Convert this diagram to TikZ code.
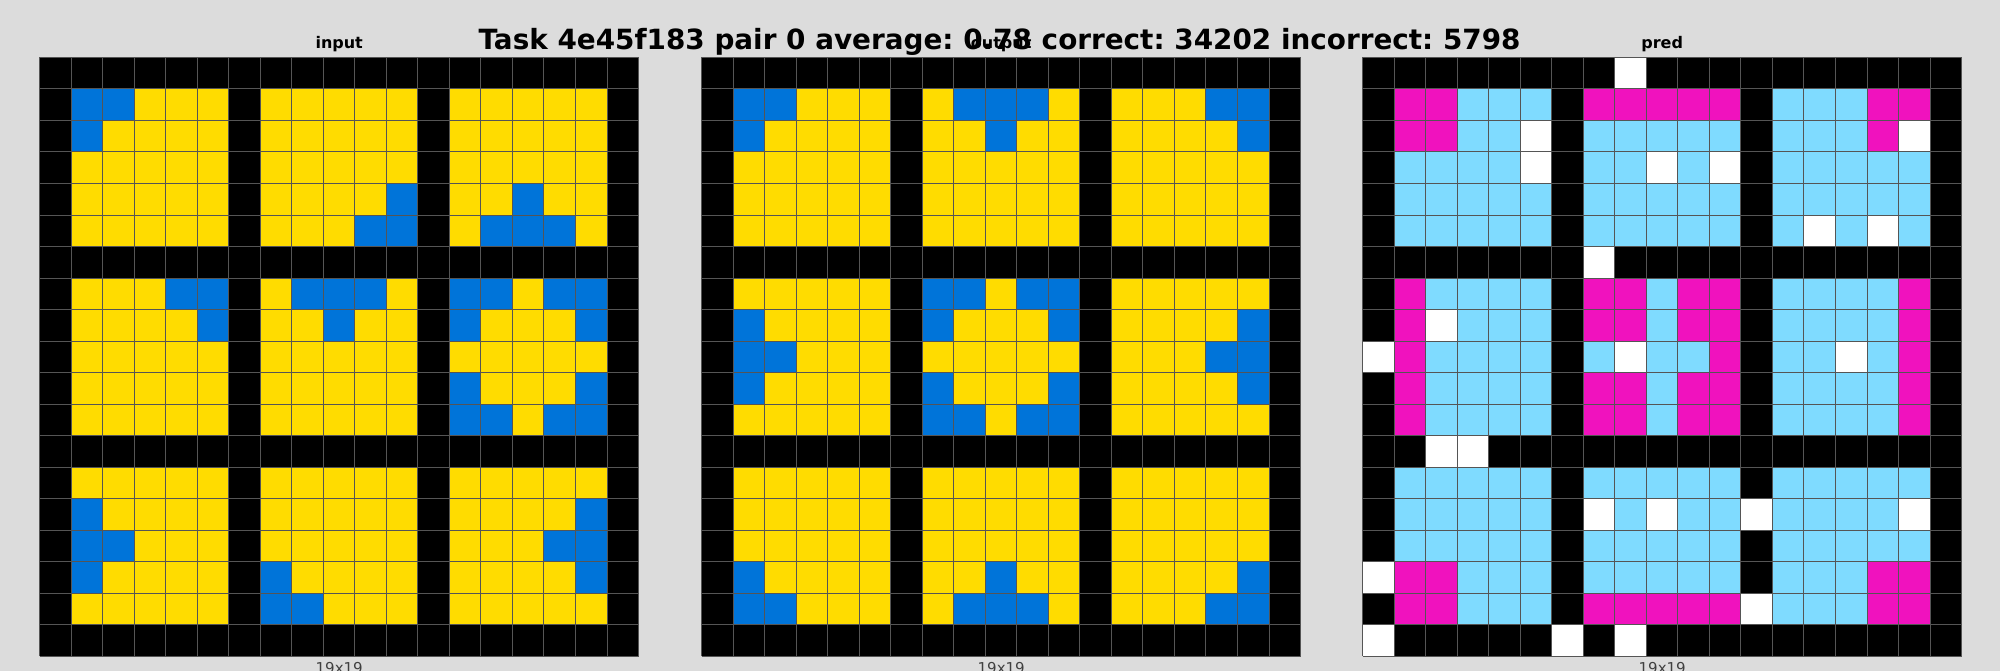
\documentclass[tikz,border=0pt]{standalone}
\usepackage{fontspec}
\setmainfont{DejaVu Sans}
\frenchspacing
\definecolor{cK}{HTML}{000000}
\definecolor{cB}{HTML}{0074D9}
\definecolor{cY}{HTML}{FFDC00}
\definecolor{cM}{HTML}{F012BE}
\definecolor{cC}{HTML}{7FDBFF}
\definecolor{cW}{HTML}{FFFFFF}
\definecolor{bgc}{HTML}{DCDCDC}
\definecolor{glc}{HTML}{555555}
\def\cellsz{31.53}
\newcommand\drawarcgrid[3]{%
  \foreach \rowlist [count=\ri from 0] in #3 {%
    \foreach \cc [count=\ci from 0] in \rowlist {%
      \fill[fill=c\cc] ({#1+\ci*\cellsz},{#2+\ri*\cellsz}) rectangle ++(\cellsz,\cellsz);
    }%
  }%
  \foreach \li in {0,...,19} {%
    \draw[gridline] ({#1+\li*\cellsz},#2) -- ++(0,{19*\cellsz});
    \draw[gridline] (#1,{#2+\li*\cellsz}) -- ++({19*\cellsz},0);
  }%
}
\def\gridIn{%
{K,K,K,K,K,K,K,K,K,K,K,K,K,K,K,K,K,K,K},
{K,B,B,Y,Y,Y,K,Y,Y,Y,Y,Y,K,Y,Y,Y,Y,Y,K},
{K,B,Y,Y,Y,Y,K,Y,Y,Y,Y,Y,K,Y,Y,Y,Y,Y,K},
{K,Y,Y,Y,Y,Y,K,Y,Y,Y,Y,Y,K,Y,Y,Y,Y,Y,K},
{K,Y,Y,Y,Y,Y,K,Y,Y,Y,Y,B,K,Y,Y,B,Y,Y,K},
{K,Y,Y,Y,Y,Y,K,Y,Y,Y,B,B,K,Y,B,B,B,Y,K},
{K,K,K,K,K,K,K,K,K,K,K,K,K,K,K,K,K,K,K},
{K,Y,Y,Y,B,B,K,Y,B,B,B,Y,K,B,B,Y,B,B,K},
{K,Y,Y,Y,Y,B,K,Y,Y,B,Y,Y,K,B,Y,Y,Y,B,K},
{K,Y,Y,Y,Y,Y,K,Y,Y,Y,Y,Y,K,Y,Y,Y,Y,Y,K},
{K,Y,Y,Y,Y,Y,K,Y,Y,Y,Y,Y,K,B,Y,Y,Y,B,K},
{K,Y,Y,Y,Y,Y,K,Y,Y,Y,Y,Y,K,B,B,Y,B,B,K},
{K,K,K,K,K,K,K,K,K,K,K,K,K,K,K,K,K,K,K},
{K,Y,Y,Y,Y,Y,K,Y,Y,Y,Y,Y,K,Y,Y,Y,Y,Y,K},
{K,B,Y,Y,Y,Y,K,Y,Y,Y,Y,Y,K,Y,Y,Y,Y,B,K},
{K,B,B,Y,Y,Y,K,Y,Y,Y,Y,Y,K,Y,Y,Y,B,B,K},
{K,B,Y,Y,Y,Y,K,B,Y,Y,Y,Y,K,Y,Y,Y,Y,B,K},
{K,Y,Y,Y,Y,Y,K,B,B,Y,Y,Y,K,Y,Y,Y,Y,Y,K},
{K,K,K,K,K,K,K,K,K,K,K,K,K,K,K,K,K,K,K}}
\def\gridOut{%
{K,K,K,K,K,K,K,K,K,K,K,K,K,K,K,K,K,K,K},
{K,B,B,Y,Y,Y,K,Y,B,B,B,Y,K,Y,Y,Y,B,B,K},
{K,B,Y,Y,Y,Y,K,Y,Y,B,Y,Y,K,Y,Y,Y,Y,B,K},
{K,Y,Y,Y,Y,Y,K,Y,Y,Y,Y,Y,K,Y,Y,Y,Y,Y,K},
{K,Y,Y,Y,Y,Y,K,Y,Y,Y,Y,Y,K,Y,Y,Y,Y,Y,K},
{K,Y,Y,Y,Y,Y,K,Y,Y,Y,Y,Y,K,Y,Y,Y,Y,Y,K},
{K,K,K,K,K,K,K,K,K,K,K,K,K,K,K,K,K,K,K},
{K,Y,Y,Y,Y,Y,K,B,B,Y,B,B,K,Y,Y,Y,Y,Y,K},
{K,B,Y,Y,Y,Y,K,B,Y,Y,Y,B,K,Y,Y,Y,Y,B,K},
{K,B,B,Y,Y,Y,K,Y,Y,Y,Y,Y,K,Y,Y,Y,B,B,K},
{K,B,Y,Y,Y,Y,K,B,Y,Y,Y,B,K,Y,Y,Y,Y,B,K},
{K,Y,Y,Y,Y,Y,K,B,B,Y,B,B,K,Y,Y,Y,Y,Y,K},
{K,K,K,K,K,K,K,K,K,K,K,K,K,K,K,K,K,K,K},
{K,Y,Y,Y,Y,Y,K,Y,Y,Y,Y,Y,K,Y,Y,Y,Y,Y,K},
{K,Y,Y,Y,Y,Y,K,Y,Y,Y,Y,Y,K,Y,Y,Y,Y,Y,K},
{K,Y,Y,Y,Y,Y,K,Y,Y,Y,Y,Y,K,Y,Y,Y,Y,Y,K},
{K,B,Y,Y,Y,Y,K,Y,Y,B,Y,Y,K,Y,Y,Y,Y,B,K},
{K,B,B,Y,Y,Y,K,Y,B,B,B,Y,K,Y,Y,Y,B,B,K},
{K,K,K,K,K,K,K,K,K,K,K,K,K,K,K,K,K,K,K}}
\def\gridPred{%
{K,K,K,K,K,K,K,K,W,K,K,K,K,K,K,K,K,K,K},
{K,M,M,C,C,C,K,M,M,M,M,M,K,C,C,C,M,M,K},
{K,M,M,C,C,W,K,C,C,C,C,C,K,C,C,C,M,W,K},
{K,C,C,C,C,W,K,C,C,W,C,W,K,C,C,C,C,C,K},
{K,C,C,C,C,C,K,C,C,C,C,C,K,C,C,C,C,C,K},
{K,C,C,C,C,C,K,C,C,C,C,C,K,C,W,C,W,C,K},
{K,K,K,K,K,K,K,W,K,K,K,K,K,K,K,K,K,K,K},
{K,M,C,C,C,C,K,M,M,C,M,M,K,C,C,C,C,M,K},
{K,M,W,C,C,C,K,M,M,C,M,M,K,C,C,C,C,M,K},
{W,M,C,C,C,C,K,C,W,C,C,M,K,C,C,W,C,M,K},
{K,M,C,C,C,C,K,M,M,C,M,M,K,C,C,C,C,M,K},
{K,M,C,C,C,C,K,M,M,C,M,M,K,C,C,C,C,M,K},
{K,K,W,W,K,K,K,K,K,K,K,K,K,K,K,K,K,K,K},
{K,C,C,C,C,C,K,C,C,C,C,C,K,C,C,C,C,C,K},
{K,C,C,C,C,C,K,W,C,W,C,C,W,C,C,C,C,W,K},
{K,C,C,C,C,C,K,C,C,C,C,C,K,C,C,C,C,C,K},
{W,M,M,C,C,C,K,C,C,C,C,C,K,C,C,C,M,M,K},
{K,M,M,C,C,C,K,M,M,M,M,M,W,C,C,C,M,M,K},
{W,K,K,K,K,K,W,K,W,K,K,K,K,K,K,K,K,K,K}}
\begin{document}
\begin{tikzpicture}[x=1pt,y=-1pt,
  gridline/.style={draw=glc,line width=1pt},
  titlef/.style={font=\bfseries\fontsize{27.85}{33}\selectfont,inner sep=0pt,anchor=base},
  subt/.style={font=\bfseries\fontsize{16}{19}\selectfont,inner sep=0pt,anchor=base},
  dimt/.style={font=\fontsize{15}{18}\selectfont,text=black!75,inner sep=0pt,anchor=base}]
\fill[bgc] (0,0) rectangle (2000,671);
\useasboundingbox (0,0) rectangle (2000,671);
\drawarcgrid{39.5}{57.4}{\gridIn}
\drawarcgrid{701.5}{57.4}{\gridOut}
\drawarcgrid{1362.5}{57.4}{\gridPred}
\node[titlef] (title) at (999.5,50) {Task 4e45f183 pair 0 average: 0.78 correct: 34202 incorrect: 5798};
\node[subt] (lin) at (339.2,49) {input};
\node[subt] (lout) at (1001.2,49) {output};
\node[subt] (lpred) at (1662.2,49) {pred};
\node[dimt] (din) at (339.2,673) {19x19};
\node[dimt] (dout) at (1001.2,673) {19x19};
\node[dimt] (dpred) at (1662.2,673) {19x19};
\end{tikzpicture}
\end{document}
